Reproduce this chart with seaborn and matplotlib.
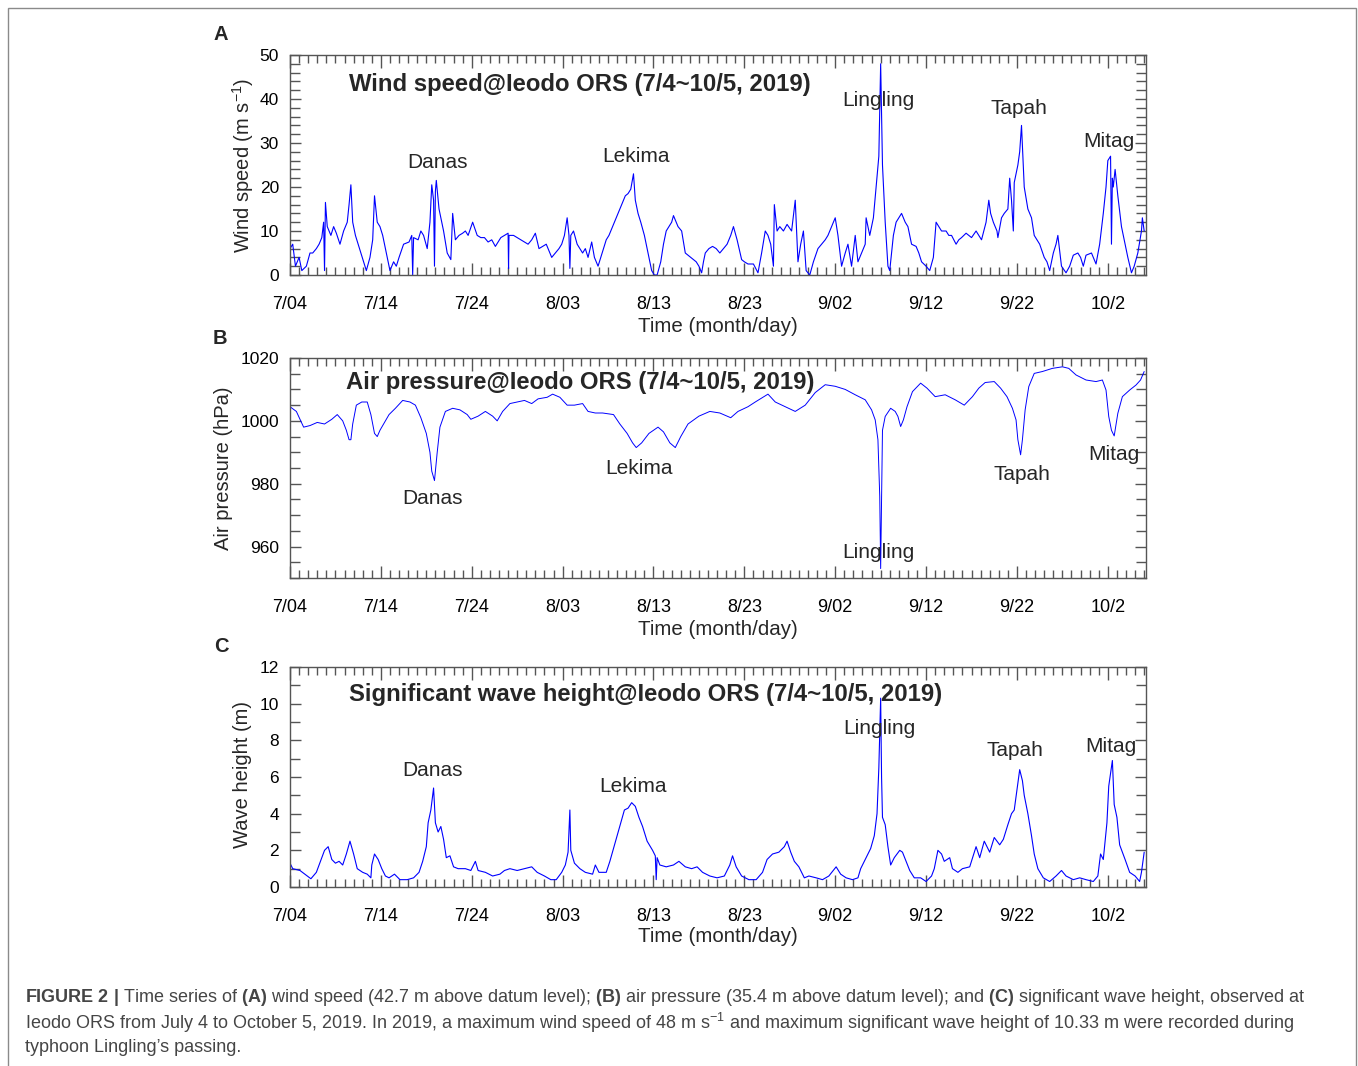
import numpy as np
import pandas as pd
import matplotlib
matplotlib.use("Agg")
import matplotlib.pyplot as plt
import matplotlib.patches as mpatches
from matplotlib.ticker import MultipleLocator, FixedLocator
import seaborn as sns

# ---------------- data (days since 7/04 00:00) ----------------
tick_days = [0, 10, 20, 30, 40, 50, 60, 70, 80, 90]
tick_labels = ["7/04", "7/14", "7/24", "8/03", "8/13", "8/23", "9/02", "9/12", "9/22", "10/2"]

wind_day = [0.0, 0.3, 0.6, 1.0, 1.3, 1.8, 2.2, 2.5, 2.9, 3.2, 3.5, 3.7, 3.8, 3.9, 4.1, 4.5, 4.8, 5.1, 5.5, 5.9,
            6.3, 6.5, 6.7, 6.9, 7.2, 7.5, 7.8, 8.1, 8.4, 8.8, 9.1, 9.3, 9.6, 9.9, 10.2, 10.6, 11.0, 11.4, 11.7, 12.0,
            12.5, 13.1, 13.4, 13.5, 13.6, 14.1, 14.4, 14.7, 15.1, 15.4, 15.6, 15.8, 15.9, 16.0, 16.1, 16.4, 16.7, 16.9,
            17.3, 17.7, 17.9, 18.2, 18.6, 19.0, 19.3, 19.6, 20.1, 20.6, 21.0, 21.4, 21.8, 22.2, 22.6, 23.2, 23.6, 24.0,
            24.05, 24.1, 24.6, 25.0, 25.4, 25.8, 26.2, 26.6, 27.0, 27.4, 27.8, 28.2, 28.5, 28.8, 29.2, 29.6, 29.9, 30.2,
            30.5, 30.7, 30.8, 30.9, 31.2, 31.6, 31.9, 32.2, 32.5, 32.8, 33.2, 33.5, 33.9, 34.2, 34.5, 34.8, 35.1, 35.4,
            35.7, 36.0, 36.3, 36.6, 36.9, 37.2, 37.5, 37.8, 38.0, 38.3, 38.6, 39.0, 39.4, 39.8, 40.1, 40.4, 40.8, 41.1,
            41.4, 41.7, 42.0, 42.2, 42.5, 42.7, 43.1, 43.5, 43.8, 44.1, 44.4, 44.7, 45.0, 45.3, 45.5, 45.7, 46.1, 46.5,
            46.9, 47.3, 47.7, 48.1, 48.5, 48.8, 49.2, 49.7, 50.0, 50.4, 51.0, 51.5, 51.9, 52.3, 52.6, 52.9, 53.2, 53.3,
            53.6, 53.9, 54.3, 54.7, 55.2, 55.6, 55.9, 56.2, 56.5, 56.8, 57.2, 57.6, 58.1, 58.5, 58.9, 59.2, 59.6, 60.0,
            60.3, 60.7, 61.1, 61.4, 61.8, 62.2, 62.5, 62.9, 63.3, 63.4, 63.8, 64.2, 64.5, 64.8, 65.0, 65.2, 65.5, 65.8,
            66.0, 66.4, 66.7, 67.0, 67.3, 67.7, 68.0, 68.4, 68.9, 69.2, 69.5, 70.0, 70.4, 70.8, 71.1, 71.4, 71.7, 72.2,
            72.5, 72.8, 73.3, 73.6, 73.9, 74.4, 75.0, 75.5, 75.8, 76.1, 76.6, 76.9, 77.1, 77.4, 77.8, 77.9, 78.3, 78.6,
            79.0, 79.2, 79.4, 79.6, 79.7, 80.1, 80.3, 80.5, 80.8, 81.2, 81.6, 81.9, 82.2, 82.5, 83.0, 83.3, 83.6, 84.0,
            84.3, 84.5, 84.9, 85.4, 85.8, 86.2, 86.7, 87.0, 87.3, 87.6, 88.2, 88.7, 89.1, 89.5, 89.8, 90.0, 90.3, 90.4,
            90.5, 90.6, 90.8, 91.1, 91.5, 91.8, 92.2, 92.6, 92.9, 93.3, 93.7, 93.8, 94.0]
wind_ms = [6, 7, 2, 4, 1, 2, 5, 5, 6, 7, 8.5, 12, 1, 16.5, 11, 9, 11, 9.5, 7, 10,
           12, 16, 20.5, 12, 9, 7, 5, 3, 1, 4, 8, 18, 12, 11, 9, 5, 1, 3, 2, 4,
           7, 7.5, 9, 0, 8.5, 8, 10, 9, 6, 12, 20.5, 17, 2, 19, 21.5, 15, 12, 10,
           5, 3.5, 14, 8, 9, 9.5, 10, 9, 12, 9, 8.5, 8.5, 7.5, 8, 6.5, 8.5, 9, 9.5,
           1.5, 9, 9, 8.5, 8, 7.5, 7, 8, 9.5, 6, 6.5, 7, 5.5, 4, 5, 6, 7, 9,
           13, 9, 1.5, 9, 10, 7, 6, 5, 6, 4, 7.5, 4, 2, 4, 6, 8, 9, 10.5,
           12, 13.5, 15, 16.5, 18, 18.5, 19.5, 23, 17, 14, 12, 9, 5, 1, 0, 0, 3, 7,
           10, 11, 12, 13.5, 12, 11, 10, 5, 4.5, 4, 3.5, 3, 2, 0.5, 3, 5, 6, 6.5,
           6, 5, 6, 7, 9, 11, 8, 3.5, 3, 2.5, 2.5, 0.5, 5, 10, 9, 7, 2, 16,
           10, 11, 10, 11.5, 10, 17, 3, 7, 10, 1, 0, 3, 6, 7, 8, 9, 11, 13,
           9, 2, 5, 7, 2, 9, 3, 5, 7, 13, 9, 13, 20, 27, 48, 25, 12, 2,
           1, 9, 12, 13, 14, 12, 11, 7, 6.5, 5, 3, 2, 1, 4, 12, 11, 10, 10,
           9, 9, 7, 8, 8.5, 9.5, 8.5, 10, 9, 8, 12, 17, 14, 12, 10, 8.5, 13, 14,
           15, 22, 17, 10, 21, 25, 28, 34, 20, 15, 13, 9, 8, 7, 4, 3, 1, 5,
           7, 9, 2, 0.5, 2, 4.5, 5, 4, 2, 4.5, 5, 2.5, 7, 14, 20, 26, 27, 7,
           22, 20, 24, 18, 11, 8, 4, 0.5, 2, 5, 10, 13, 10]

pres_day = [0.0, 0.7, 1.5, 2.2, 3.0, 3.8, 4.6, 5.2, 5.8, 6.2, 6.5, 6.7, 6.9, 7.3, 7.9, 8.5, 8.9, 9.3, 9.6, 9.9,
            10.3, 10.9, 11.6, 12.4, 13.2, 13.8, 14.4, 15.0, 15.4, 15.6, 15.9, 16.2, 16.5, 17.1, 17.9, 18.7, 19.5,
            19.9, 20.7, 21.5, 22.3, 22.8, 23.4, 24.2, 25.0, 25.8, 26.6, 27.3, 28.3, 28.9, 29.7, 30.5, 31.3, 32.2,
            32.8, 33.6, 34.4, 35.6, 36.3, 37.1, 37.7, 38.1, 38.7, 39.5, 40.5, 41.1, 41.8, 42.4, 43.0, 43.8, 45.0,
            46.2, 47.3, 48.5, 49.3, 50.4, 51.2, 52.6, 53.4, 54.5, 55.6, 56.7, 57.8, 58.9, 60.0, 61.1, 62.2, 63.3,
            64.0, 64.4, 64.7, 64.9, 65.0, 65.1, 65.2, 65.5, 66.1, 66.6, 66.9, 67.2, 67.5, 67.9, 68.5, 69.4, 70.1,
            71.0, 72.1, 73.2, 74.2, 75.1, 75.8, 76.5, 77.5, 78.2, 78.9, 79.5, 79.9, 80.1, 80.4, 80.6, 80.9, 81.3,
            81.9, 82.8, 83.9, 85.0, 85.7, 86.5, 87.6, 88.7, 89.4, 89.8, 90.1, 90.4, 90.7, 91.1, 91.6, 92.4, 93.1,
            93.6, 94.0]
pres_hpa = [1004.5, 1003, 998, 998.5, 999.5, 999, 1000.5, 1002, 1000, 997, 994, 994, 999, 1005, 1006, 1006, 1002,
            996, 995, 997, 999, 1002, 1004, 1006.5, 1006, 1005, 1001, 996, 990, 984, 981, 990, 998, 1003, 1004,
            1003.5, 1002, 1000.5, 1001.5, 1003, 1001.5, 1000, 1003, 1005.5, 1006, 1006.5, 1005.5, 1007, 1007.5,
            1008.5, 1007.5, 1005, 1005, 1005.5, 1003, 1002.5, 1002.5, 1002, 999, 996, 993, 991.5, 993, 996, 998,
            996.5, 993, 991.5, 995, 999, 1001.5, 1003, 1002.5, 1001, 1003, 1004.5, 1006, 1008.5, 1006, 1004.5,
            1003, 1005, 1009, 1011.5, 1011, 1010, 1008.3, 1006.7, 1003.5, 1000.3, 994, 976, 953, 976, 997,
            1001.4, 1004, 1003, 1001.4, 998.2, 1000.3, 1004.5, 1009.3, 1012, 1010.4, 1007.7, 1008.3, 1006.7, 1005,
            1007.7, 1010.4, 1012.2, 1012.5, 1010.4, 1007.7, 1004, 1000.3, 994, 989.2, 994, 1003.5, 1010.9,
            1015.1, 1015.7, 1016.7, 1017.2, 1016.7, 1014.6, 1013, 1012.5, 1013, 1009.8, 1001.4, 997, 995.2,
            1002.4, 1007.7, 1009.8, 1011.4, 1013, 1015.7]

wave_day = [0.0, 0.3, 1.1, 1.9, 2.3, 2.9, 3.5, 3.8, 4.2, 4.6, 5.0, 5.4, 5.8, 6.2, 6.6, 7.0, 7.4, 8.0, 8.5, 8.9,
            9.0, 9.3, 9.7, 10.1, 10.5, 10.9, 11.5, 12.1, 12.9, 13.6, 14.2, 14.6, 15.0, 15.2, 15.5, 15.8, 16.0, 16.3,
            16.6, 16.9, 17.2, 17.6, 18.0, 18.5, 19.3, 19.9, 20.4, 20.7, 21.5, 22.3, 23.1, 23.6, 24.2, 25.0, 25.8,
            26.6, 27.2, 28.0, 28.7, 29.3, 29.9, 30.3, 30.6, 30.8, 30.9, 31.3, 31.9, 32.5, 33.3, 33.6, 34.0, 34.8,
            35.2, 35.6, 36.0, 36.4, 36.8, 37.2, 37.6, 38.0, 38.4, 38.8, 39.3, 39.9, 40.2, 40.3, 40.4, 40.7, 41.4,
            42.2, 42.8, 43.5, 44.2, 44.8, 45.4, 46.2, 47.0, 47.8, 48.4, 48.7, 49.1, 49.7, 50.5, 51.3, 52.0, 52.5,
            53.1, 53.8, 54.4, 54.7, 55.1, 55.5, 56.0, 56.6, 57.1, 57.9, 58.6, 59.3, 60.1, 60.6, 61.2, 61.9, 62.5,
            62.8, 63.4, 63.9, 64.3, 64.6, 64.8, 64.9, 65.0, 65.1, 65.2, 65.5, 65.8, 66.1, 66.5, 67.1, 67.4, 67.8,
            68.2, 68.7, 69.4, 70.0, 70.6, 70.9, 71.3, 71.7, 72.0, 72.6, 72.9, 73.5, 74.0, 74.8, 75.5, 75.9, 76.4,
            77.0, 77.5, 78.1, 78.5, 79.0, 79.4, 79.7, 80.0, 80.3, 80.6, 80.8, 81.2, 81.6, 81.9, 82.3, 82.9, 83.6,
            84.3, 84.9, 85.4, 86.2, 86.9, 87.6, 88.4, 88.9, 89.2, 89.5, 89.9, 90.1, 90.5, 90.7, 91.0, 91.3, 91.9,
            92.4, 93.0, 93.5, 93.7, 94.0]
wave_m = [1.3, 1.0, 0.9, 0.6, 0.45, 0.8, 1.6, 2.0, 2.2, 1.5, 1.3, 1.4, 1.2, 1.8, 2.5, 1.8, 1.0, 0.8, 0.7, 0.5,
          1.2, 1.8, 1.5, 1.0, 0.6, 0.5, 0.7, 0.4, 0.4, 0.5, 0.8, 1.4, 2.2, 3.5, 4.2, 5.4, 3.5, 3.0,
          3.3, 2.6, 1.6, 1.7, 1.1, 1.0, 1.0, 0.9, 1.4, 0.9, 0.8, 0.6, 0.7, 0.9, 1.0, 0.9, 1.0,
          1.1, 0.8, 0.6, 0.4, 0.4, 0.8, 1.2, 1.9, 4.2, 2.0, 1.3, 1.0, 0.8, 0.7, 1.2, 0.8, 0.8,
          1.4, 2.1, 2.8, 3.5, 4.2, 4.3, 4.6, 4.4, 3.8, 3.3, 2.5, 2.0, 1.7, 0.4, 1.6, 1.2, 1.1,
          1.2, 1.4, 1.1, 1.0, 1.1, 0.8, 0.6, 0.5, 0.6, 1.2, 1.7, 1.1, 0.6, 0.4, 0.4, 0.8, 1.5,
          1.8, 1.9, 2.2, 2.5, 1.9, 1.4, 1.1, 0.5, 0.6, 0.5, 0.4, 0.6, 1.1, 0.7, 0.5, 0.4, 0.5,
          1.0, 1.6, 2.1, 2.8, 4.0, 6.5, 8.5, 10.3, 6.0, 3.8, 3.4, 2.2, 1.2, 1.6, 2.0, 1.9, 1.4,
          0.9, 0.5, 0.5, 0.3, 0.6, 1.0, 2.0, 1.8, 1.4, 1.6, 1.0, 0.8, 1.0, 1.1, 2.2, 1.6, 2.5,
          1.9, 2.7, 2.3, 2.6, 3.4, 4.0, 4.2, 5.3, 6.4, 5.8, 5.0, 4.0, 2.8, 1.8, 1.0, 0.5, 0.3,
          0.6, 0.9, 0.6, 0.4, 0.5, 0.4, 0.3, 0.6, 1.8, 1.5, 3.5, 5.5, 6.9, 4.5, 3.8, 2.3, 1.5,
          0.8, 0.6, 0.3, 0.8, 1.9]

typhoons = ["Danas", "Lekima", "Lingling", "Tapah", "Mitag"]

# ---------------- style ----------------
sns.set_style("ticks")
FONT = "Liberation Sans"
plt.rcParams["font.family"] = [FONT, "DejaVu Sans"]
plt.rcParams["mathtext.fontset"] = "custom"
plt.rcParams["mathtext.rm"] = FONT
plt.rcParams["mathtext.it"] = FONT + ":italic"
plt.rcParams["mathtext.bf"] = FONT + ":bold"

W, H = 1358, 1066
fig = plt.figure(figsize=(W / 100, H / 100), dpi=100)
fig.patch.set_facecolor("white")

LINE = "#0000ff"
SPINE = "#555555"


def make_axes(top, bottom, left=290, right=1146):
    return fig.add_axes([left / W, 1 - bottom / H, (right - left) / W, (bottom - top) / H])


def style_axes(ax, ylim, ymaj, ymin_step, ylab, ylab_x, ylab_y, xlab_y):
    ax.set_xlim(0, 94.2)
    ax.set_ylim(*ylim)
    ax.xaxis.set_major_locator(FixedLocator(tick_days))
    ax.set_xticklabels(tick_labels)
    ax.xaxis.set_minor_locator(MultipleLocator(1))
    ax.yaxis.set_major_locator(FixedLocator(ymaj))
    ax.yaxis.set_minor_locator(MultipleLocator(ymin_step))
    ax.tick_params(axis="both", which="both", direction="in", top=True, right=True,
                   colors=SPINE, labelcolor="black", width=1.0)
    ax.tick_params(axis="x", which="major", length=9, labelsize=13, pad=15)
    ax.tick_params(axis="x", which="minor", length=6)
    ax.tick_params(axis="y", which="major", length=8, labelsize=12.5, pad=8)
    ax.tick_params(axis="y", which="minor", length=7)
    for s in ax.spines.values():
        s.set_color(SPINE)
        s.set_linewidth(1.0)
    ax.set_xlabel("Time (month/day)", fontsize=14.8, va="center")
    ax.xaxis.set_label_coords(0.5, xlab_y)
    ax.set_ylabel(ylab, fontsize=14.5, va="center")
    ax.yaxis.set_label_coords(ylab_x, ylab_y)


def atext(ax, px, py, s, **kw):
    # place text by figure pixel position
    fig.text(px / W, 1 - py / H, s, **kw)


TITLE_FS = 17.2
ANN_FS = 15

# ---- Panel A: wind speed ----
axA = make_axes(55, 275)
dfA = pd.DataFrame({"day": wind_day, "val": wind_ms})
sns.lineplot(data=dfA, x="day", y="val", ax=axA, color=LINE, lw=0.8, estimator=None, sort=False)
style_axes(axA, (0, 50), [0, 10, 20, 30, 40, 50], 2, r"Wind speed (m s$^{-1}$)", -0.055, 0.5, -0.232)
atext(axA, 349, 85, "Wind speed@Ieodo ORS (7/4~10/5, 2019)", fontsize=TITLE_FS, fontweight="bold", ha="left", va="center")
for name, (px, py) in zip(typhoons, [(437, 162), (636, 157), (878, 101), (1019, 109), (1109, 141)]):
    atext(axA, px, py, name, fontsize=ANN_FS, ha="center", va="center")
atext(axA, 221, 35, "A", fontsize=14.5, fontweight="bold", ha="center", va="center")

# ---- Panel B: air pressure ----
axB = make_axes(358, 578)
dfB = pd.DataFrame({"day": pres_day, "val": pres_hpa})
sns.lineplot(data=dfB, x="day", y="val", ax=axB, color=LINE, lw=0.7, estimator=None, sort=False)
style_axes(axB, (950, 1020), [960, 980, 1000, 1020], 5, "Air pressure (hPa)", -0.078, 0.5, -0.232)
atext(axB, 346, 383, "Air pressure@Ieodo ORS (7/4~10/5, 2019)", fontsize=TITLE_FS, fontweight="bold", ha="left", va="center")
for name, (px, py) in zip(typhoons, [(433, 499), (639, 469), (878, 553), (1022, 474), (1114, 454)]):
    atext(axB, px, py, name, fontsize=ANN_FS, ha="center", va="center")
atext(axB, 220, 338, "B", fontsize=14.5, fontweight="bold", ha="center", va="center")

# ---- Panel C: wave height ----
axC = make_axes(667, 887)
dfC = pd.DataFrame({"day": wave_day, "val": wave_m})
sns.lineplot(data=dfC, x="day", y="val", ax=axC, color=LINE, lw=0.8, estimator=None, sort=False)
style_axes(axC, (0, 12), [0, 2, 4, 6, 8, 10, 12], 1, "Wave height (m)", -0.055, 0.51, -0.227)
atext(axC, 349, 694, "Significant wave height@Ieodo ORS (7/4~10/5, 2019)", fontsize=TITLE_FS, fontweight="bold", ha="left", va="center")
for name, (px, py) in zip(typhoons, [(433, 770), (633, 786), (879, 728), (1015, 751), (1111, 746)]):
    atext(axC, px, py, name, fontsize=ANN_FS, ha="center", va="center")
atext(axC, 221, 647, "C", fontsize=14.5, fontweight="bold", ha="center", va="center")

# ---- caption ----
cap1 = (r"$\bf{FIGURE\ 2\ |}$ Time series of $\bf{(A)}$ wind speed (42.7 m above datum level); "
        r"$\bf{(B)}$ air pressure (35.4 m above datum level); and $\bf{(C)}$ significant wave height, observed at")
cap2 = (r"Ieodo ORS from July 4 to October 5, 2019. In 2019, a maximum wind speed of 48 m s$^{-1}$ "
        r"and maximum significant wave height of 10.33 m were recorded during")
cap3 = "typhoon Lingling\u2019s passing."

renderer = fig.canvas.get_renderer()
probe = fig.text(25 / W, 1 - 998 / H, cap1, fontsize=12)
w = probe.get_window_extent(renderer).width
probe.remove()
cap_size = 12 * (1280 / w)
for s, y in [(cap1, 998), (cap2, 1023), (cap3, 1048)]:
    fig.text(25 / W, 1 - y / H, s, fontsize=cap_size, color="#454545", ha="left", va="center")

# ---- outer frame ----
fig.patches.append(mpatches.Rectangle((8 / W, -0.02), (1356 - 8) / W, 1 - 8 / H + 0.02,
                                      transform=fig.transFigure, fill=False, ec="#8a8a8a", lw=1.0))

fig.savefig("out.png", dpi=100, facecolor="white")
